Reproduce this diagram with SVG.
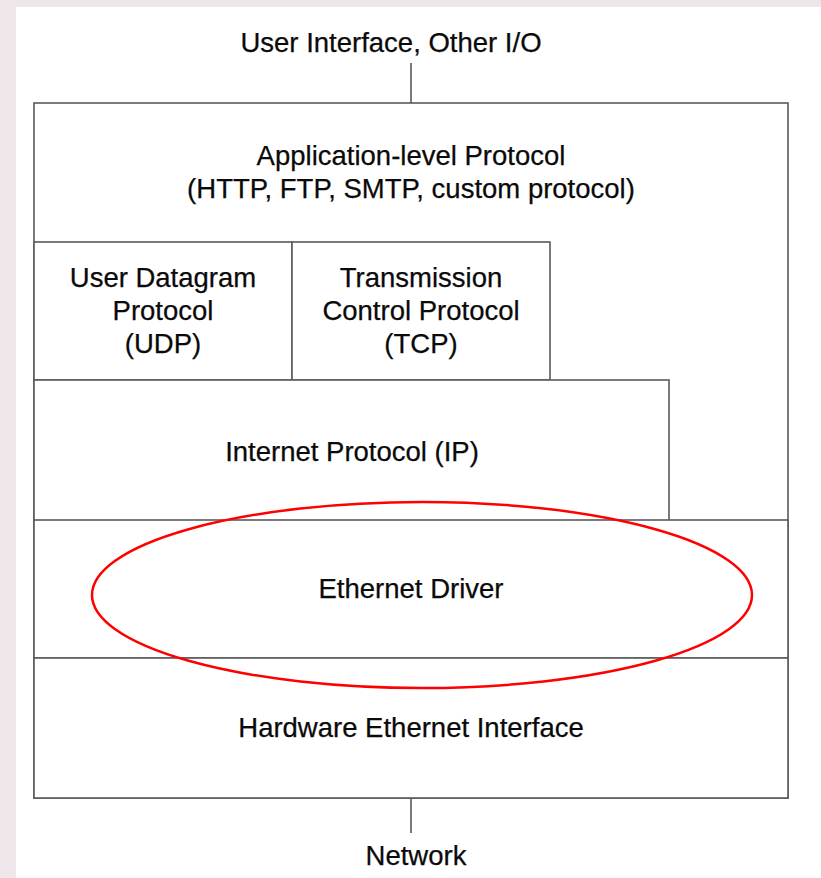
<svg xmlns="http://www.w3.org/2000/svg" width="821" height="878" viewBox="0 0 821 878">
  <style>
    .box { fill: #ffffff; stroke: #5a5a5a; stroke-width: 1.6; }
    .conn { stroke: #5a5a5a; stroke-width: 1.6; fill: none; }
    .t { font-family: "Liberation Sans", Arial, sans-serif; font-size: 27.5px; fill: #0a0a0a; stroke: #0a0a0a; stroke-width: 0.25; text-anchor: middle; }
    .mark { fill: none; stroke: #ff0000; stroke-width: 2.5; }
  </style>
  <rect x="0" y="0" width="821" height="878" fill="#ffffff"/>
  <rect x="0" y="0" width="821" height="7" fill="#ece5ea"/>
  <rect x="0" y="0" width="16" height="878" fill="#efe7ea"/>

  <g id="connectors">
    <line class="conn" x1="411" y1="63" x2="411" y2="103"/>
    <line class="conn" x1="411" y1="798" x2="411" y2="833"/>
  </g>

  <g id="app">
    <rect class="box" x="34" y="103" width="754" height="695"/>
    <text class="t" x="411" y="165">Application-level Protocol</text>
    <text class="t" x="411" y="198">(HTTP, FTP, SMTP, custom protocol)</text>
  </g>

  <g id="udp">
    <rect class="box" x="34" y="242" width="258" height="138"/>
    <text class="t" x="163" y="287">User Datagram</text>
    <text class="t" x="163" y="320">Protocol</text>
    <text class="t" x="163" y="353">(UDP)</text>
  </g>

  <g id="tcp">
    <rect class="box" x="292" y="242" width="258" height="138"/>
    <text class="t" x="421" y="287">Transmission</text>
    <text class="t" x="421" y="320">Control Protocol</text>
    <text class="t" x="421" y="353">(TCP)</text>
  </g>

  <g id="ip">
    <rect class="box" x="34" y="380" width="635" height="141"/>
    <text class="t" x="352" y="461">Internet Protocol (IP)</text>
  </g>

  <g id="ethernet-driver">
    <rect class="box" x="34" y="520" width="754" height="138"/>
    <text class="t" x="411" y="598">Ethernet Driver</text>
  </g>

  <g id="hardware">
    <rect class="box" x="34" y="658" width="754" height="140"/>
    <text class="t" x="411" y="737">Hardware Ethernet Interface</text>
  </g>

  <g id="user-interface">
    <text class="t" x="391" y="52">User Interface, Other I/O</text>
  </g>

  <g id="network">
    <text class="t" x="416" y="865">Network</text>
  </g>

  <g id="highlight">
    <ellipse class="mark" cx="422" cy="595" rx="330" ry="93"/>
  </g>
</svg>
